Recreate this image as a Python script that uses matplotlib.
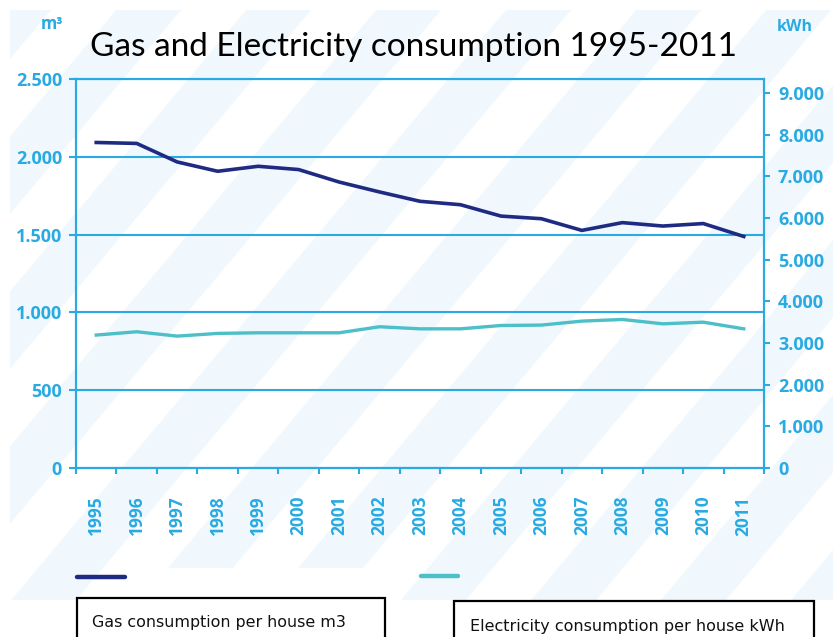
import matplotlib
matplotlib.use("Agg")
import matplotlib.pyplot as plt
import numpy as np
from matplotlib.patches import Rectangle, Polygon
from matplotlib.lines import Line2D

# ---------------- data ----------------
years = [str(y) for y in range(1995, 2012)]
gas = [2092, 2086, 1967, 1907, 1939, 1918, 1838, 1774, 1714, 1692,
       1619, 1602, 1527, 1577, 1555, 1571, 1488]
elec = [3190, 3270, 3165, 3230, 3245, 3245, 3245, 3390, 3340, 3340,
        3420, 3430, 3525, 3565, 3460, 3500, 3340]
gas_ticks = [0, 500, 1000, 1500, 2000, 2500]
gas_tick_labels = ['0', '500', '1.000', '1.500', '2.000', '2.500']
elec_ticks = [0, 1000, 2000, 3000, 4000, 5000, 6000, 7000, 8000, 9000]
elec_tick_labels = ['0', '1.000', '2.000', '3.000', '4.000', '5.000',
                    '6.000', '7.000', '8.000', '9.000']
title = "Gas and Electricity consumption 1995-2011"
legend_gas = "Gas consumption per house m3"
legend_elec = "Electricity consumption per house kWh"

# ---------------- style ----------------
BLUE = '#29aae2'
NAVY = '#1f2b82'
TEAL = '#4cbfc8'
STRIPE = '#f0f8fd'
W, H = 833, 637

fig = plt.figure(figsize=(W / 100, H / 100), dpi=100)
fig.patch.set_facecolor('white')

# background decoration (pixel coordinates)
bg = fig.add_axes([0, 0, 1, 1], zorder=-10)
bg.set_xlim(0, W)
bg.set_ylim(H, 0)
bg.axis('off')
clip = Rectangle((10, 10), W - 10, 590, transform=bg.transData, visible=False)
bg.add_patch(clip)
ang = np.deg2rad(50)
dx = 1 / np.tan(ang)
period, sw = 130, 65
for c in range(-800, 1400, period):
    y0, y1 = -50, H + 50
    poly = Polygon([(c + (H - y1) * dx, y1), (c + sw + (H - y1) * dx, y1),
                    (c + sw + (H - y0) * dx, y0), (c + (H - y0) * dx, y0)],
                   closed=True, facecolor=STRIPE, edgecolor='none')
    bg.add_patch(poly)
    poly.set_clip_path(clip)

# legend area
bg.add_patch(Rectangle((128, 568), 257, 32, facecolor='white', edgecolor='none'))
bg.add_line(Line2D([77, 125], [577, 577], color=NAVY, lw=3.2, solid_capstyle='round'))
bg.add_line(Line2D([421, 458], [576, 576], color=TEAL, lw=3.2, solid_capstyle='round'))
bg.add_patch(Rectangle((77, 598), 308, 60, facecolor='white', edgecolor='black', lw=1.6))
bg.add_patch(Rectangle((454, 601), 360, 60, facecolor='white', edgecolor='black', lw=1.6))
bg.text(92, 622, legend_gas, fontsize=11.4, family='DejaVu Sans', va='center', ha='left', color='#111111')
bg.text(470, 626, legend_elec, fontsize=11.5, family='DejaVu Sans', va='center', ha='left', color='#111111')

# title and unit labels
fig.text(413 / W, 1 - 47 / H, title, fontsize=24, family='Lato', ha='center', va='center', color='black')
fig.text(52 / W, 1 - 24 / H, 'm³', fontsize=12, family='Open Sans', fontweight='bold', ha='center', va='center', color=BLUE)
fig.text(795 / W, 1 - 27 / H, 'kWh', fontsize=11.5, family='Open Sans', fontweight='bold', ha='center', va='center', color=BLUE)

# ---------------- main axes ----------------
ax = fig.add_axes([76 / W, 1 - 468 / H, 688 / W, 389 / H])
ax.patch.set_alpha(0)
x = np.arange(len(years))
ax.set_xlim(-0.5, len(years) - 0.5)
ax.set_ylim(0, 2500)
ax.plot(x, gas, color=NAVY, lw=2.6, solid_joinstyle='round', zorder=5)

ax.set_yticks(gas_ticks)
ax.set_yticklabels(gas_tick_labels)
ax.yaxis.grid(True, color=BLUE, lw=1.5)
ax.set_axisbelow(True)
ax.set_xticks(x)
ax.set_xticklabels(years, rotation=90)
ax.set_xticks(np.arange(-0.5, len(years)), minor=True)
ax.tick_params(axis='x', which='major', length=0, pad=20)
ax.tick_params(axis='x', which='minor', length=4, width=1.5, color=BLUE, direction='out')
ax.tick_params(axis='y', length=5, width=1.5, color=BLUE, pad=5)
for lab in ax.get_xticklabels() + ax.get_yticklabels():
    lab.set_fontfamily('Open Sans')
    lab.set_fontweight('bold')
    lab.set_color(BLUE)
for lab in ax.get_xticklabels():
    lab.set_fontsize(12.5)
for lab in ax.get_yticklabels():
    lab.set_fontsize(13)
for s in ax.spines.values():
    s.set_color(BLUE)
    s.set_linewidth(1.5)

ax2 = ax.twinx()
ax2.set_ylim(0, 9336)
ax2.plot(x, elec, color=TEAL, lw=2.4, solid_joinstyle='round', zorder=5)
ax2.set_yticks(elec_ticks)
ax2.set_yticklabels(elec_tick_labels)
ax2.tick_params(axis='y', length=4, width=1.5, color=BLUE, pad=6)
for lab in ax2.get_yticklabels():
    lab.set_fontfamily('Open Sans')
    lab.set_fontweight('bold')
    lab.set_color(BLUE)
    lab.set_fontsize(13)
for s in ax2.spines.values():
    s.set_color(BLUE)
    s.set_linewidth(1.5)

fig.savefig('out.png', dpi=100)
